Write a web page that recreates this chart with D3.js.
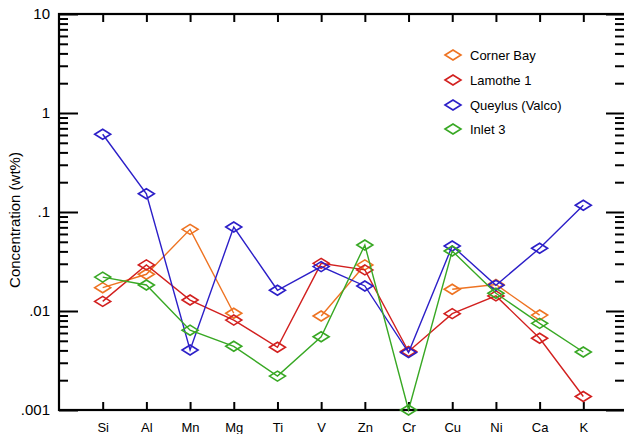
<!DOCTYPE html>
<html>
<head>
<meta charset="utf-8">
<script src="https://cdn.jsdelivr.net/npm/d3@7"></script>
<style>
  body { margin: 0; background: #fff; }
  svg text { font-family: "Liberation Sans", Arial, Helvetica, sans-serif; fill: #000; }
</style>
</head>
<body>
<div id="chart"></div>
<script>
// element categories along x
const elements = ["Si", "Al", "Mn", "Mg", "Ti", "V", "Zn", "Cr", "Cu", "Ni", "Ca", "K"]

// concentrations (wt%), null = not measured
const cornerBay = [0.0172, 0.0235, 0.0668, 0.0095, null, 0.0089, 0.0292, null, 0.0166, 0.0185, 0.0091, null]
const lamothe1  = [0.0125, 0.0292, 0.0129, 0.0081, 0.0043, 0.0303, 0.026, 0.0039, 0.0094, 0.0142, 0.0053, 0.00137]
const queylus   = [0.61, 0.153, 0.00404, 0.0705, 0.0162, 0.0281, 0.0179, 0.0038, 0.0454, 0.0182, 0.043, 0.117]
const inlet3    = [0.022, 0.0183, 0.0064, 0.0044, 0.0022, 0.0055, 0.0464, 0.001, 0.0404, 0.0151, 0.0075, 0.00385]

const seriesNames = ["Corner Bay", "Lamothe 1", "Queylus (Valco)", "Inlet 3"]
const seriesColors = ["#ee7322", "#d2201f", "#2c1fc8", "#38a824"]
const seriesValues = [cornerBay, lamothe1, queylus, inlet3]

const yMajor = [0.001, 0.01, 0.1, 1, 10]
const yMajorLabels = [".001", ".01", ".1", "1", "10"]

const width = 624, height = 434
const plotL = 59, plotR = 627, plotT = 14, plotB = 410

var svg = d3.select("#chart")
    .append("svg")
        .attr("width", width)
        .attr("height", height)

const x = d3.scalePoint().domain(elements).range([plotL, plotR]).padding(1)
const y = d3.scaleLog().domain([0.001, 10]).range([plotB, plotT])

var yMinor = []
yMajor.slice(0, -1).forEach(d => { for (let k = 2; k <= 9; k++) yMinor.push(d * k) })

function cleanAxis(g) {
    g.select(".domain").remove()
    g.selectAll(".tick line").attr("stroke", "#000").attr("stroke-width", 2)
}

// bottom + top category ticks (pointing inward)
svg.append("g")
    .attr("transform", `translate(0, ${plotB})`)
    .call(d3.axisBottom(x).tickSize(-8).tickPadding(13))
    .call(cleanAxis)
    .selectAll("text").style("font-size", "13px")

svg.append("g")
    .attr("transform", `translate(0, ${plotT})`)
    .call(d3.axisTop(x).tickSize(-8).tickFormat(""))
    .call(cleanAxis)

// left axis: minor + major ticks
svg.append("g")
    .attr("transform", `translate(${plotL}, 0)`)
    .call(d3.axisLeft(y).tickValues(yMinor).tickSize(-9).tickFormat(""))
    .call(cleanAxis)

svg.append("g")
    .attr("transform", `translate(${plotL}, 0)`)
    .call(d3.axisLeft(y).tickValues(yMajor).tickSize(-19).tickPadding(9)
        .tickFormat((d, i) => yMajorLabels[i]))
    .call(cleanAxis)
    .selectAll("text").style("font-size", "15px")

// right axis, mostly outside the window
svg.append("g")
    .attr("transform", `translate(${plotR}, 0)`)
    .call(d3.axisRight(y).tickValues(yMinor).tickSize(-12).tickFormat(""))
    .call(cleanAxis)

svg.append("g")
    .attr("transform", `translate(${plotR}, 0)`)
    .call(d3.axisRight(y).tickValues(yMajor).tickSize(-21).tickFormat(""))
    .call(cleanAxis)

// frame
svg.append("rect")
    .attr("x", plotL).attr("y", plotT)
    .attr("width", plotR - plotL).attr("height", plotB - plotT)
    .attr("fill", "none")
    .attr("stroke", "#000")
    .attr("stroke-width", 2.2)

// y title
svg.append("text")
    .attr("transform", `translate(20, ${(plotT + plotB) / 2 + 8}) rotate(-90)`)
    .attr("text-anchor", "middle")
    .style("font-size", "15px")
    .text("Concentration (wt%)")

const diamond = (cx, cy) => `M${cx - 8},${cy}L${cx},${cy - 5}L${cx + 8},${cy}L${cx},${cy + 5}Z`

const line = d3.line()
    .defined(d => d != null)
    .x((d, i) => x(elements[i]))
    .y(d => y(d))

seriesValues.forEach((vals, s) => {
    var g = svg.append("g")
    g.append("path")
        .datum(vals)
        .attr("fill", "none")
        .attr("stroke", seriesColors[s])
        .attr("stroke-width", 1.4)
        .attr("d", line)
    g.selectAll("path.mark")
        .data(vals.map((v, i) => [elements[i], v]).filter(d => d[1] != null))
        .enter().append("path")
        .attr("class", "mark")
        .attr("d", d => diamond(x(d[0]), y(d[1])))
        .attr("fill", "none")
        .attr("stroke", seriesColors[s])
        .attr("stroke-width", 1.6)
})

// legend
const legendY = [55, 80, 105, 129]
seriesNames.forEach((name, s) => {
    svg.append("path")
        .attr("d", diamond(453, legendY[s]))
        .attr("fill", "none")
        .attr("stroke", seriesColors[s])
        .attr("stroke-width", 1.6)
    svg.append("text")
        .attr("x", 470)
        .attr("y", legendY[s])
        .attr("dy", "0.35em")
        .style("font-size", "13px")
        .text(name)
})
</script>
</body>
</html>
